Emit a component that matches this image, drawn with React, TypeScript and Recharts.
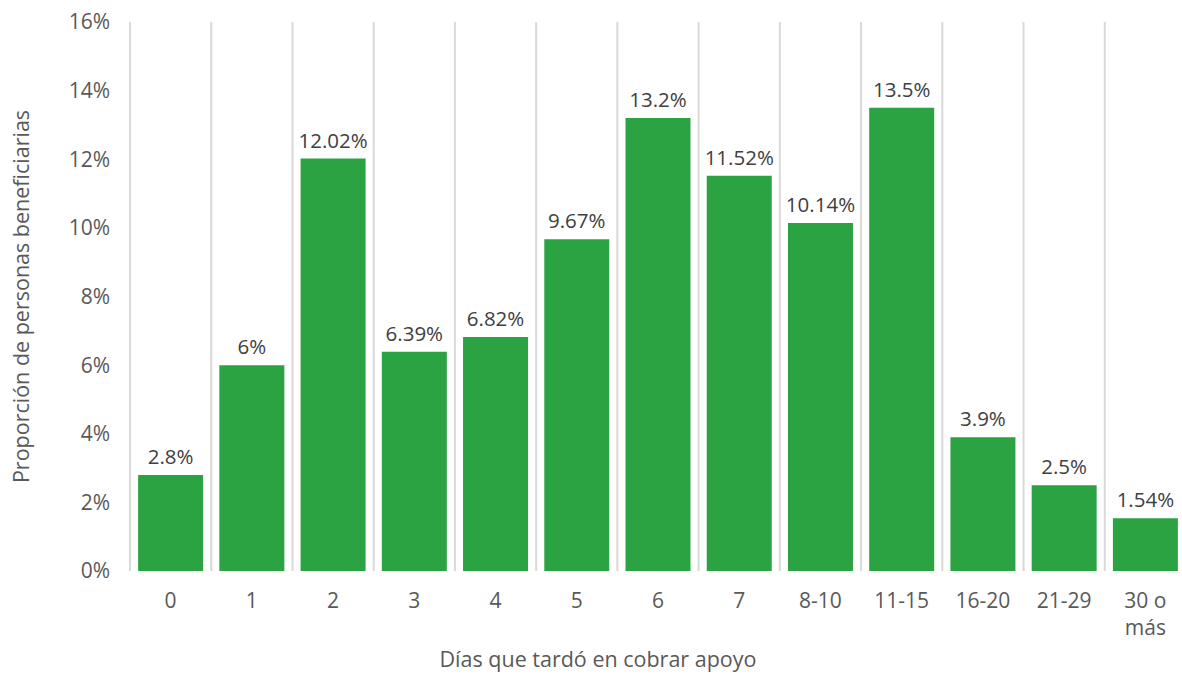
import React from 'react';
import { BarChart, Bar, XAxis, YAxis, CartesianGrid, LabelList } from 'recharts';

const categories = ['0', '1', '2', '3', '4', '5', '6', '7', '8-10', '11-15', '16-20', '21-29', '30 o más'];
const shares = [2.8, 6, 12.02, 6.39, 6.82, 9.67, 13.2, 11.52, 10.14, 13.5, 3.9, 2.5, 1.54];
const yTicks = [0, 2, 4, 6, 8, 10, 12, 14, 16];

const data = categories.map((dias, i) => ({ dias, share: shares[i] }));

const FONT = '"Open Sans", "Noto Sans", sans-serif';
const GREEN = '#2ca343';

function DayTick({ x, y, payload }: any) {
  const label: string = payload.value;
  // long labels wrap onto two lines like the original
  const cut = label.lastIndexOf(' ');
  const lines = label.length > 6 ? [label.slice(0, cut), label.slice(cut + 1)] : [label];
  return (
    <text x={x} y={y + 37} textAnchor="middle" fill="#595959" fontSize={21} fontFamily={FONT}>
      {lines.map((l, i) => (
        <tspan key={i} x={x} dy={i === 0 ? 0 : 27}>{l}</tspan>
      ))}
    </text>
  );
}

function YLabel({ viewBox }: any) {
  const cx = viewBox.x + 20;
  const cy = viewBox.y + viewBox.height / 2;
  return (
    <text x={cx} y={cy} transform={`rotate(-90 ${cx} ${cy})`} textAnchor="middle" dominantBaseline="central"
      fill="#595959" fontSize={21.5} fontFamily={FONT}>
      Proporción de personas beneficiarias
    </text>
  );
}

export default function App() {
  return (
    <div style={{ position: 'absolute', left: 0, top: 0, width: 1182, height: 674, overflow: 'hidden', background: '#fff' }}>
      <BarChart width={1190} height={674} data={data} margin={{ top: 22, right: 4, bottom: 3, left: 0 }} barCategoryGap="10%">
        <CartesianGrid
          horizontal={false}
          stroke="#d9d9d9"
          strokeWidth={2}
          verticalCoordinatesGenerator={({ offset }: any) =>
            categories.map((_, i) => offset.left + (i * offset.width) / categories.length).concat([offset.left + offset.width])
          }
        />
        <XAxis
          dataKey="dias"
          height={100}
          axisLine={false}
          tickLine={false}
          tickSize={0}
          tickMargin={0}
          interval={0}
          tick={<DayTick />}
          label={{ value: 'Días que tardó en cobrar apoyo', position: 'insideBottom', offset: 4, dx: -60, fill: '#595959', fontSize: 21.5, fontFamily: FONT }}
        />
        <YAxis
          width={130}
          domain={[0, 16]}
          ticks={yTicks}
          axisLine={false}
          tickLine={false}
          tickSize={0}
          tickMargin={20}
          tickFormatter={(v: number) => `${v}%`}
          tick={{ fill: '#595959', fontSize: 21, fontFamily: FONT }}
          label={<YLabel />}
        />
        <Bar dataKey="share" fill={GREEN} isAnimationActive={false}>
          <LabelList dataKey="share" position="top" offset={11} formatter={(v: any) => `${v}%`}
            style={{ fill: '#404040', fontSize: 20.5, fontFamily: FONT }} />
        </Bar>
      </BarChart>
    </div>
  );
}
